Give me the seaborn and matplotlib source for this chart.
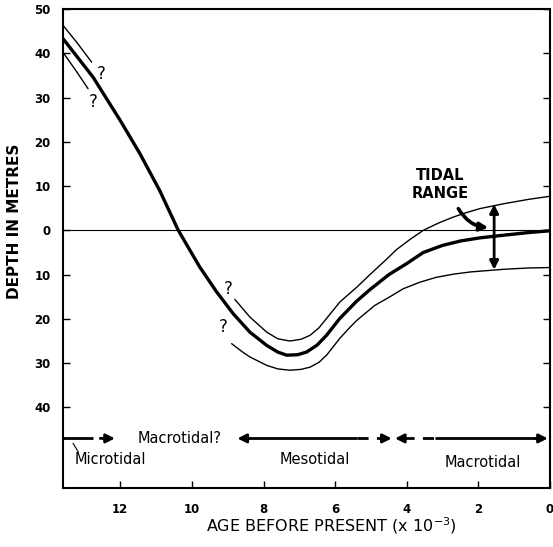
import matplotlib
matplotlib.use("Agg")
import matplotlib.pyplot as plt
import seaborn as sns

# ---- data (age in ka before present, depth with +up) ----
main_age = [13.6, 12.76, 12.0, 11.45, 10.9, 10.38, 9.78, 9.31, 8.85, 8.38, 7.91, 7.6, 7.35,
            7.05, 6.8, 6.5, 6.24, 5.87, 5.4, 5.03, 4.5, 4.0, 3.54, 3.0, 2.5, 1.96, 1.3, 0.6, 0.0]
main_depth = [43.3, 34.6, 24.8, 17.3, 9.0, 0.0, -8.3, -13.9, -18.8, -23.0, -26.0, -27.5, -28.2,
              -28.1, -27.5, -25.9, -23.7, -19.9, -16.0, -13.4, -10.0, -7.5, -5.0, -3.4, -2.4,
              -1.7, -1.1, -0.5, -0.1]

upper_left_age = [13.6, 13.2, 12.8]
upper_left_depth = [46.3, 42.3, 38.0]
upper_age = [8.8, 8.38, 7.91, 7.6, 7.26, 6.95, 6.7, 6.45, 6.24, 5.87, 5.39, 5.03, 4.6, 4.28,
             3.9, 3.54, 3.1, 2.7, 2.3, 1.96, 1.3, 0.6, 0.0]
upper_depth = [-15.6, -19.6, -23.0, -24.5, -25.0, -24.6, -23.7, -22.0, -19.9, -16.2, -12.8,
               -10.0, -6.8, -4.3, -2.0, 0.0, 1.7, 3.0, 4.1, 4.9, 6.0, 7.0, 7.7]

lower_left_age = [13.6, 13.25, 12.9]
lower_left_depth = [40.2, 36.2, 32.0]
lower_age = [8.89, 8.6, 8.38, 7.91, 7.6, 7.26, 6.95, 6.7, 6.45, 6.24, 5.87, 5.6, 5.39, 4.9,
             4.47, 4.1, 3.63, 3.17, 2.7, 2.23, 1.3, 0.6, 0.0]
lower_depth = [-25.6, -27.4, -28.6, -30.5, -31.3, -31.6, -31.4, -30.9, -29.8, -28.2, -24.4,
               -22.0, -20.3, -17.0, -15.0, -13.2, -11.7, -10.6, -9.9, -9.4, -8.8, -8.5, -8.4]

ytick_vals = [50, 40, 30, 20, 10, 0, -10, -20, -30, -40]
ytick_labels = ["50", "40", "30", "20", "10", "0", "10", "20", "30", "40"]
xtick_vals = [12, 10, 8, 6, 4, 2, 0]
xtick_labels = ["12", "10", "8", "6", "4", "2", "0"]

question_x = [12.52, 12.76, 8.98, 9.14]
question_y = [35.4, 29.0, -13.2, -21.8]

regime_y = -47.0
regime_labels = ["Microtidal", "Macrotidal?", "Mesotidal", "Macrotidal"]
regime_label_x = [12.29, 10.34, 6.58, 1.87]
regime_label_y = [-51.8, -47.0, -51.8, -52.5]

tidal_x = 1.56
tidal_top = 5.9
tidal_bottom = -8.9

# ---- figure ----
sns.set_style("ticks")
plt.rcParams["font.family"] = ["DejaVu Sans"]
for k in ["text.color", "axes.labelcolor", "xtick.color", "ytick.color"]:
    plt.rcParams[k] = "black"
fig = plt.figure(figsize=(5.53, 5.47), dpi=100)
ax = fig.add_axes([63 / 553, 1 - 488 / 547, (550 - 63) / 553, (488 - 9) / 547])

thin = 1.0
sns.lineplot(x=main_age, y=main_depth, ax=ax, color="black", linewidth=2.4)
for a, d in [(upper_left_age, upper_left_depth), (upper_age, upper_depth),
             (lower_left_age, lower_left_depth), (lower_age, lower_depth)]:
    sns.lineplot(x=a, y=d, ax=ax, color="black", linewidth=thin)

ax.axhline(0, color="black", lw=0.8, zorder=0)

ax.set_xlim(13.6, 0)
ax.set_ylim(-58.2, 50)
ax.set_yticks(ytick_vals)
ax.set_yticklabels(ytick_labels)
ax.set_xticks(xtick_vals)
ax.set_xticklabels(xtick_labels)
ax.tick_params(axis="both", direction="in", length=5, width=1.0, labelsize=8.5)
ax.tick_params(axis="y", pad=9, right=True)
ax.tick_params(axis="x", pad=11)
for lab in ax.get_xticklabels() + ax.get_yticklabels():
    lab.set_fontweight("bold")
for s in ax.spines.values():
    s.set_visible(True)
    s.set_linewidth(1.5)
    s.set_color("black")

ax.set_xlabel(r"AGE BEFORE PRESENT (x 10$^{-3}$)", fontsize=11.5)
ax.xaxis.set_label_coords(0.552, -0.079)
ax.xaxis.label.set_va("center")
ax.set_ylabel("DEPTH IN METRES", fontsize=11, fontweight="bold")
ax.yaxis.set_label_coords(-0.0986, 0.557)
ax.yaxis.label.set_va("center")

# question marks
for qx, qy in zip(question_x, question_y):
    ax.text(qx, qy, "?", fontsize=12, ha="center", va="center")

# regime arrows
lw_r = 2.0
head = dict(arrowstyle="-|>", color="black", lw=lw_r, mutation_scale=13, shrinkA=0, shrinkB=0)
# microtidal
ax.plot([13.6, 12.76], [regime_y, regime_y], color="black", lw=lw_r, solid_capstyle="butt")
ax.annotate("", xy=(12.15, regime_y), xytext=(12.56, regime_y), arrowprops=head)
ax.plot([13.32, 13.17], [-48.1, -50.1], color="black", lw=0.8)
# mesotidal
ax.annotate("", xy=(8.73, regime_y), xytext=(8.4, regime_y), arrowprops=head)
ax.plot([8.45, 5.4], [regime_y, regime_y], color="black", lw=lw_r, solid_capstyle="butt")
ax.plot([5.4, 4.62], [regime_y, regime_y], color="black", lw=lw_r, ls=(0, (4, 3)))
ax.annotate("", xy=(4.42, regime_y), xytext=(4.7, regime_y), arrowprops=head)
# macrotidal
ax.annotate("", xy=(4.33, regime_y), xytext=(4.05, regime_y), arrowprops=head)
ax.plot([4.1, 3.22], [regime_y, regime_y], color="black", lw=lw_r, ls=(0, (4, 3)))
ax.plot([3.22, 0.3], [regime_y, regime_y], color="black", lw=lw_r, solid_capstyle="butt")
ax.annotate("", xy=(0.06, regime_y), xytext=(0.4, regime_y), arrowprops=head)

for t, x, y in zip(regime_labels, regime_label_x, regime_label_y):
    ax.text(x, y, t, fontsize=10.5, ha="center", va="center")

# tidal range
ax.annotate("", xy=(tidal_x, tidal_top), xytext=(tidal_x, tidal_bottom),
            arrowprops=dict(arrowstyle="<|-|>", color="black", lw=2.0, mutation_scale=13,
                            shrinkA=0, shrinkB=0))
ax.text(3.07, 12.4, "TIDAL", fontsize=10.5, fontweight="bold", ha="center", va="center")
ax.text(3.07, 8.3, "RANGE", fontsize=10.5, fontweight="bold", ha="center", va="center")
ax.annotate("", xy=(1.72, 0.6), xytext=(2.56, 4.9),
            arrowprops=dict(arrowstyle="-|>", color="black", lw=2.6, mutation_scale=12,
                            shrinkA=0, shrinkB=0, connectionstyle="arc3,rad=0.25"))

fig.savefig("out.png", dpi=100)
